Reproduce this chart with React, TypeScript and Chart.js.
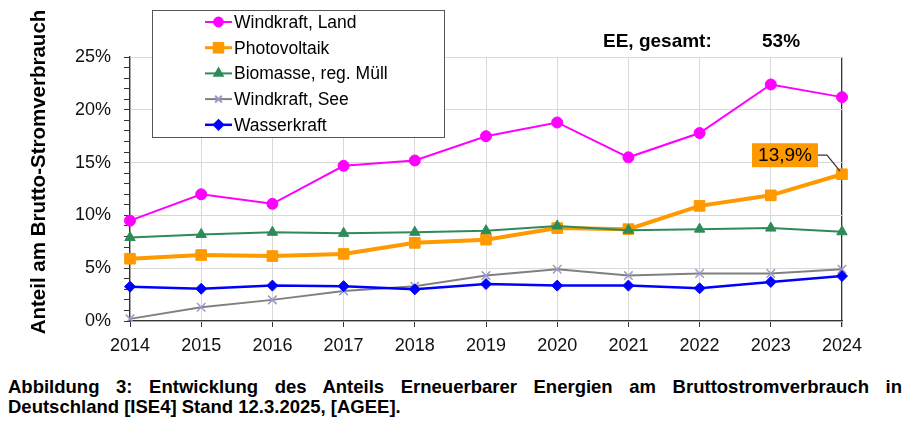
import React, { useEffect, useRef } from "react";
import { Chart, registerables } from "chart.js";
import { drawPoint } from "chart.js/helpers";

Chart.register(...registerables);

// ---- data ----
const years = ["2014", "2015", "2016", "2017", "2018", "2019", "2020", "2021", "2022", "2023", "2024"];
const windLand = [9.5, 12.0, 11.1, 14.7, 15.2, 17.5, 18.8, 15.5, 17.8, 22.4, 21.2];
const photovoltaik = [5.9, 6.25, 6.15, 6.35, 7.4, 7.7, 8.8, 8.7, 10.9, 11.9, 13.9];
const biomasse = [7.9, 8.2, 8.4, 8.3, 8.4, 8.55, 9.0, 8.6, 8.7, 8.8, 8.45];
const windSee = [0.2, 1.3, 2.0, 2.85, 3.3, 4.3, 4.9, 4.3, 4.5, 4.5, 4.9];
const wasser = [3.25, 3.05, 3.35, 3.3, 3.0, 3.5, 3.35, 3.35, 3.1, 3.7, 4.25];
const seriesNames = ["Windkraft, Land", "Photovoltaik", "Biomasse, reg. Müll", "Windkraft, See", "Wasserkraft"];
const yMin = 0;
const yMax = 25;
const yMajorStep = 5;
const yMinorStep = 1;
const eeLabel = "EE, gesamt:";
const eeTotal = 53;
const yTitle = "Anteil am Brutto-Stromverbrauch";
const captionLine1 = "Abbildung 3: Entwicklung des Anteils Erneuerbarer Energien am Bruttostromverbrauch in";
const captionLine2 = "Deutschland [ISE4] Stand 12.3.2025, [AGEE].";

const FONT = '"Liberation Sans", Arial, Helvetica, sans-serif';

const extrasPlugin = {
  id: "extras",
  afterDraw(chart: any) {
    const ctx: CanvasRenderingContext2D = chart.ctx;
    ctx.save();

    // y axis title
    ctx.save();
    ctx.translate(37, 164);
    ctx.rotate(-Math.PI / 2);
    ctx.font = `bold 20.5px ${FONT}`;
    ctx.fillStyle = "#000";
    ctx.textAlign = "center";
    ctx.textBaseline = "alphabetic";
    ctx.fillText(yTitle, 0, 0);
    ctx.restore();

    // EE total
    ctx.font = `bold 19px ${FONT}`;
    ctx.fillStyle = "#000";
    ctx.textAlign = "left";
    ctx.textBaseline = "alphabetic";
    ctx.fillText(eeLabel, 595, 39);
    ctx.fillText(`${eeTotal}%`, 754, 39);

    // legend box
    const bx = 144.5, by = 2.5, bw = 292, bh = 127;
    ctx.fillStyle = "#fff";
    ctx.fillRect(bx, by, bw, bh);
    ctx.strokeStyle = "#555";
    ctx.lineWidth = 1;
    ctx.strokeRect(bx, by, bw, bh);
    const ds = chart.data.datasets;
    ds.forEach((d: any, i: number) => {
      const cy = 14 + i * 25.7;
      ctx.strokeStyle = d.borderColor;
      ctx.lineWidth = Math.min(d.borderWidth, 3);
      ctx.beginPath();
      ctx.moveTo(197, cy);
      ctx.lineTo(224, cy);
      ctx.stroke();
      ctx.fillStyle = d.pointBackgroundColor;
      ctx.strokeStyle = d.pointBorderColor;
      drawPoint(ctx, {
        pointStyle: d.pointStyle,
        radius: d.pointRadius * 0.8,
        rotation: 0,
        borderWidth: d.pointBorderWidth,
      } as any, 210.5, cy);
      ctx.fillStyle = "#000";
      ctx.font = `17.5px ${FONT}`;
      ctx.textAlign = "left";
      ctx.textBaseline = "middle";
      ctx.fillText(d.label, 226, cy + 1);
    });

    // 13,9% annotation on last PV point
    const meta = chart.getDatasetMeta(1);
    const last = meta.data[meta.data.length - 1];
    if (last) {
      const px = last.x, py = last.y;
      const label = `${String(photovoltaik[photovoltaik.length - 1]).replace(".", ",")}%`;
      const boxR = px - 24, boxW = 66, boxT = py - 31, boxH = 24;
      ctx.strokeStyle = "#333";
      ctx.lineWidth = 1.2;
      ctx.beginPath();
      ctx.moveTo(boxR, py - 19);
      ctx.lineTo(px - 15, py - 19);
      ctx.lineTo(px - 2, py - 3);
      ctx.stroke();
      ctx.fillStyle = "#FF9900";
      ctx.fillRect(boxR - boxW, boxT, boxW, boxH);
      ctx.fillStyle = "#000";
      ctx.font = `19px ${FONT}`;
      ctx.textAlign = "center";
      ctx.textBaseline = "middle";
      ctx.fillText(label, boxR - boxW / 2, boxT + boxH / 2 + 1);
    }
    ctx.restore();
  },
};

export default function App() {
  const ref = useRef<HTMLCanvasElement | null>(null);

  useEffect(() => {
    if (!ref.current) return;
    const lastIdx = years.length - 1;
    const chart = new Chart(ref.current, {
      type: "line",
      data: {
        labels: years,
        datasets: [
          {
            label: seriesNames[0],
            data: windLand,
            borderColor: "#FF00FF",
            backgroundColor: "#FF00FF",
            borderWidth: 2,
            pointStyle: "circle",
            pointRadius: 5.5,
            pointBackgroundColor: "#FF00FF",
            pointBorderColor: "#FF00FF",
            pointBorderWidth: 1,
            order: 4,
          },
          {
            label: seriesNames[1],
            data: photovoltaik,
            borderColor: "#FF9900",
            backgroundColor: "#FF9900",
            borderWidth: 4,
            pointStyle: "rect",
            pointRadius: 7.5,
            pointBackgroundColor: "#FF9900",
            pointBorderColor: "#FF9900",
            pointBorderWidth: 1,
            order: 3,
          },
          {
            label: seriesNames[2],
            data: biomasse,
            borderColor: "#2E8B57",
            backgroundColor: "#2E8B57",
            borderWidth: 2,
            pointStyle: "triangle",
            pointRadius: 6,
            pointBackgroundColor: "#2E8B57",
            pointBorderColor: "#2E8B57",
            pointBorderWidth: 1,
            order: 2,
          },
          {
            label: seriesNames[3],
            data: windSee,
            borderColor: "#808080",
            backgroundColor: "#9A9AC8",
            borderWidth: 2,
            pointStyle: "crossRot",
            pointRadius: 6,
            pointBackgroundColor: "#9A9AC8",
            pointBorderColor: "#9A9AC8",
            pointBorderWidth: 1.5,
            order: 1,
          },
          {
            label: seriesNames[4],
            data: wasser,
            borderColor: "#0000FF",
            backgroundColor: "#0000FF",
            borderWidth: 2.5,
            pointStyle: "rectRot",
            pointRadius: 5.5,
            pointBackgroundColor: "#0000FF",
            pointBorderColor: "#0000FF",
            pointBorderWidth: 1,
            order: 0,
          },
        ],
      },
      options: {
        responsive: false,
        animation: false,
        devicePixelRatio: 1,
        layout: { padding: { left: 0, right: 66, top: 49, bottom: 0 } },
        plugins: {
          legend: { display: false },
          tooltip: { enabled: false },
          title: { display: false },
        },
        elements: { line: { tension: 0 } },
        scales: {
          x: {
            type: "category",
            offset: false,
            afterFit: (s: any) => {
              s.height = 39;
            },
            grid: {
              color: (c: any) => (c.index === lastIdx ? "#333" : "#D9D9D9"),
              lineWidth: (c: any) => (c.index === lastIdx ? 1.3 : 1),
              tickColor: "#333",
              tickLength: 6,
              drawTicks: true,
            },
            border: { color: "#333", width: 1.3 },
            ticks: {
              color: "#111",
              font: { family: FONT, size: 18 },
              padding: 8,
              maxRotation: 0,
              autoSkip: false,
            },
          },
          y: {
            min: yMin,
            max: yMax,
            afterFit: (s: any) => {
              s.width = 122;
            },
            grid: {
              color: (c: any) =>
                c.tick && c.tick.value % yMajorStep === 0 ? "#D9D9D9" : "rgba(0,0,0,0)",
              tickColor: "#333",
              tickLength: 6,
            },
            border: { color: "#333", width: 1.3 },
            ticks: {
              stepSize: yMinorStep,
              autoSkip: false,
              color: "#111",
              font: { family: FONT, size: 18 },
              padding: 13,
              callback: (v: any) => (Number(v) % yMajorStep === 0 ? `${v}%` : ""),
            },
          },
        },
      },
      plugins: [extrasPlugin],
    } as any);
    return () => chart.destroy();
  }, []);

  return (
    <div style={{ width: 900, fontFamily: FONT }}>
      <canvas ref={ref} width={900} height={352} style={{ display: "block" }} />
      <div
        style={{
          marginTop: 17,
          fontWeight: "bold",
          fontSize: 18.5,
          lineHeight: "20px",
          color: "#000",
          width: 894,
        }}
      >
        <div style={{ textAlign: "justify", textAlignLast: "justify" }}>{captionLine1}</div>
        <div style={{ textAlign: "left" }}>{captionLine2}</div>
      </div>
    </div>
  );
}
